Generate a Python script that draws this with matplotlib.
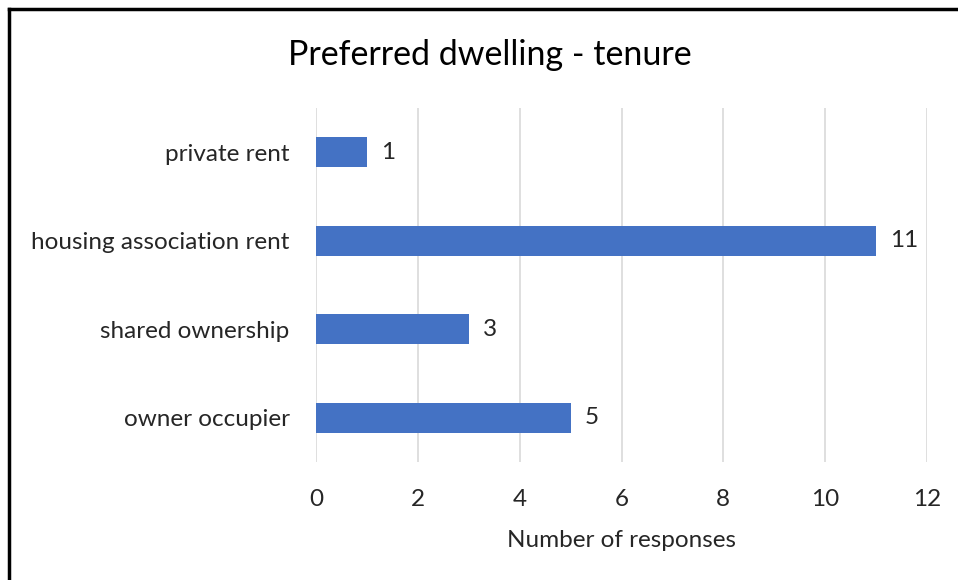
import matplotlib
matplotlib.use("Agg")
import matplotlib.pyplot as plt

categories = ["owner occupier", "shared ownership", "housing association rent", "private rent"]
responses = [5, 3, 11, 1]
xticks = [0, 2, 4, 6, 8, 10, 12]

BLUE = "#4472C4"
TXT = "#262626"
plt.rcParams["font.family"] = ["Lato", "DejaVu Sans"]

fig = plt.figure(figsize=(9.58, 5.8), dpi=100)
ax = fig.add_axes([316 / 958, 1 - 462 / 580, (927 - 316) / 958, (462 - 108) / 580])

ax.barh(range(len(categories)), responses, height=0.34, color=BLUE, zorder=3)
for i, v in enumerate(responses):
    ax.annotate(str(v), (v, i), xytext=(10, 0), textcoords="offset points",
                va="center", ha="left", fontsize=17.5, color=TXT)

ax.set_xlim(0, 12)
ax.set_ylim(-0.5, len(categories) - 0.5)
ax.set_xticks(xticks)
ax.set_yticks(range(len(categories)))
ax.set_yticklabels(categories)
ax.tick_params(axis="both", length=0, labelsize=17.5, labelcolor=TXT)
ax.tick_params(axis="x", pad=19.5)
ax.tick_params(axis="y", pad=19)
ax.grid(axis="x", color="#D9D9D9", lw=1.2, zorder=0)
for sp in ax.spines.values():
    sp.set_visible(False)
ax.set_xlabel("Number of responses", fontsize=17.5, color=TXT, labelpad=14)

fig.text(490 / 958, 1 - 55 / 580, "Preferred dwelling - tenure", ha="center", va="center",
         fontsize=24.5, color="black")

# frame like the cropped screenshot: only top and left edges visible
fig.add_artist(plt.Line2D([9 / 958, 1], [1 - 9 / 580, 1 - 9 / 580], color="black", lw=2.5))
fig.add_artist(plt.Line2D([9 / 958, 9 / 958], [0, 1 - 9 / 580], color="black", lw=2.5))

fig.savefig("out.png", dpi=100)
